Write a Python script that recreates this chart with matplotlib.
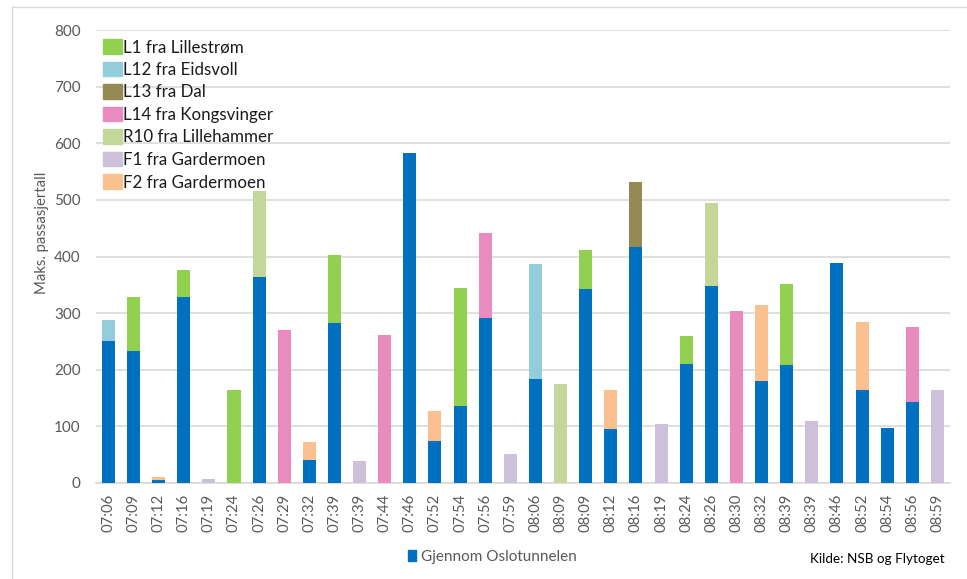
import matplotlib
matplotlib.use("Agg")
import matplotlib.pyplot as plt
from matplotlib.patches import Patch
from matplotlib.lines import Line2D
import numpy as np

plt.rcParams['font.family'] = ['Lato', 'DejaVu Sans']

departures = ["07:06", "07:09", "07:12", "07:16", "07:19", "07:24", "07:26", "07:29",
              "07:32", "07:39", "07:39", "07:44", "07:46", "07:52", "07:54", "07:56",
              "07:59", "08:06", "08:09", "08:09", "08:12", "08:16", "08:19", "08:24",
              "08:26", "08:30", "08:32", "08:39", "08:39", "08:46", "08:52", "08:54",
              "08:56", "08:59"]

gjennom = [250, 233, 5, 328, 0, 0, 363, 0, 40, 282, 0, 0, 583, 74, 136, 291, 0,
           183, 0, 342, 95, 416, 0, 211, 348, 0, 181, 208, 0, 389, 165, 98, 143, 0]
l1 = [0, 95, 0, 49, 0, 164, 0, 0, 0, 121, 0, 0, 0, 0, 209, 0, 0,
      0, 0, 70, 0, 0, 0, 48, 0, 0, 0, 144, 0, 0, 0, 0, 0, 0]
l12 = [37, 0, 0, 0, 0, 0, 0, 0, 0, 0, 0, 0, 0, 0, 0, 0, 0,
       203, 0, 0, 0, 0, 0, 0, 0, 0, 0, 0, 0, 0, 0, 0, 0, 0]
l13 = [0, 0, 0, 0, 0, 0, 0, 0, 0, 0, 0, 0, 0, 0, 0, 0, 0,
       0, 0, 0, 0, 116, 0, 0, 0, 0, 0, 0, 0, 0, 0, 0, 0, 0]
l14 = [0, 0, 0, 0, 0, 0, 0, 270, 0, 0, 0, 262, 0, 0, 0, 150, 0,
       0, 0, 0, 0, 0, 0, 0, 0, 303, 0, 0, 0, 0, 0, 0, 132, 0]
r10 = [0, 0, 0, 0, 0, 0, 152, 0, 0, 0, 0, 0, 0, 0, 0, 0, 0,
       0, 174, 0, 0, 0, 0, 0, 146, 0, 0, 0, 0, 0, 0, 0, 0, 0]
f1 = [0, 0, 0, 0, 7, 0, 0, 0, 0, 0, 38, 0, 0, 0, 0, 0, 51,
      0, 0, 0, 0, 0, 104, 0, 0, 0, 0, 0, 109, 0, 0, 0, 0, 164]
f2 = [0, 0, 5, 0, 0, 0, 0, 0, 32, 0, 0, 0, 0, 54, 0, 0, 0,
      0, 0, 0, 70, 0, 0, 0, 0, 0, 134, 0, 0, 0, 120, 0, 0, 0]

series = [
    ("L1 fra Lillestrøm", l1, "#92D050"),
    ("L12 fra Eidsvoll", l12, "#92CDDC"),
    ("L13 fra Dal", l13, "#948A54"),
    ("L14 fra Kongsvinger", l14, "#EA8BC0"),
    ("R10 fra Lillehammer", r10, "#C4D79B"),
    ("F1 fra Gardermoen", f1, "#CCC0DA"),
    ("F2 fra Gardermoen", f2, "#FAC090"),
]
blue = "#0070C0"

W, H = 967, 579
fig = plt.figure(figsize=(W / 100, H / 100), dpi=100)
ax = fig.add_axes([95.8 / W, 1 - 483 / H, (950 - 95.8) / W, (483 - 30) / H])

x = np.arange(len(departures))
bw = 0.52
ax.bar(x, gjennom, width=bw, color=blue, zorder=3)
base = np.array(gjennom, dtype=float)
handles = []
for name, vals, col in series:
    v = np.array(vals, dtype=float)
    ax.bar(x, v, width=bw, bottom=base, color=col, zorder=3)
    base = base + v
    handles.append(Patch(facecolor=col, edgecolor=col, label=name))

ax.set_xlim(-0.5, len(departures) - 0.5)
ax.set_ylim(0, 800)
ax.set_yticks(range(0, 801, 100))
ax.yaxis.grid(True, color="#D9D9D9", linewidth=1.2, zorder=0)
ax.set_axisbelow(True)
for s in ["left", "right", "top"]:
    ax.spines[s].set_visible(False)
ax.spines["bottom"].set_color("#D9D9D9")
ax.spines["bottom"].set_linewidth(1.2)
ax.tick_params(axis="both", length=0, colors="#595959", labelsize=11)
ax.tick_params(axis="y", pad=11)
ax.tick_params(axis="x", pad=8, labelsize=10.7)
ax.set_xticks(x)
ax.set_xticklabels(departures, rotation=90)

fig.text(42 / W, 1 - 233 / H, "Maks. passasjertall", rotation=90,
         ha="center", va="center", color="#595959", fontsize=10.7)

leg = ax.legend(handles=handles, loc="upper left",
                bbox_to_anchor=(103 / W, 1 - 39 / H), bbox_transform=fig.transFigure,
                frameon=False, fontsize=12.2, handlelength=1.1, handleheight=0.95,
                handletextpad=0.1, labelspacing=0.38, borderpad=0, borderaxespad=0)
for t in leg.get_texts():
    t.set_color("#1a1a1a")

fig.legend(handles=[Patch(facecolor=blue, edgecolor=blue, label="Gjennom Oslotunnelen")],
           loc="center left", bbox_to_anchor=(408 / W, 1 - 557 / H),
           frameon=False, fontsize=11, handlelength=0.55, handleheight=0.75,
           handletextpad=0.3, borderpad=0, borderaxespad=0, labelcolor="#595959")

fig.text(945 / W, 1 - 559 / H, "Kilde: NSB og Flytoget", ha="right", va="center",
         fontsize=9.7, color="#000000")

# outer chart border (left and top edges)
fig.add_artist(Line2D([12 / W, 12 / W], [0, 1 - 7 / H], transform=fig.transFigure,
                      color="#D9D9D9", linewidth=1))
fig.add_artist(Line2D([12 / W, 1], [1 - 7 / H, 1 - 7 / H], transform=fig.transFigure,
                      color="#D9D9D9", linewidth=1))

fig.savefig("out.png", dpi=100)
